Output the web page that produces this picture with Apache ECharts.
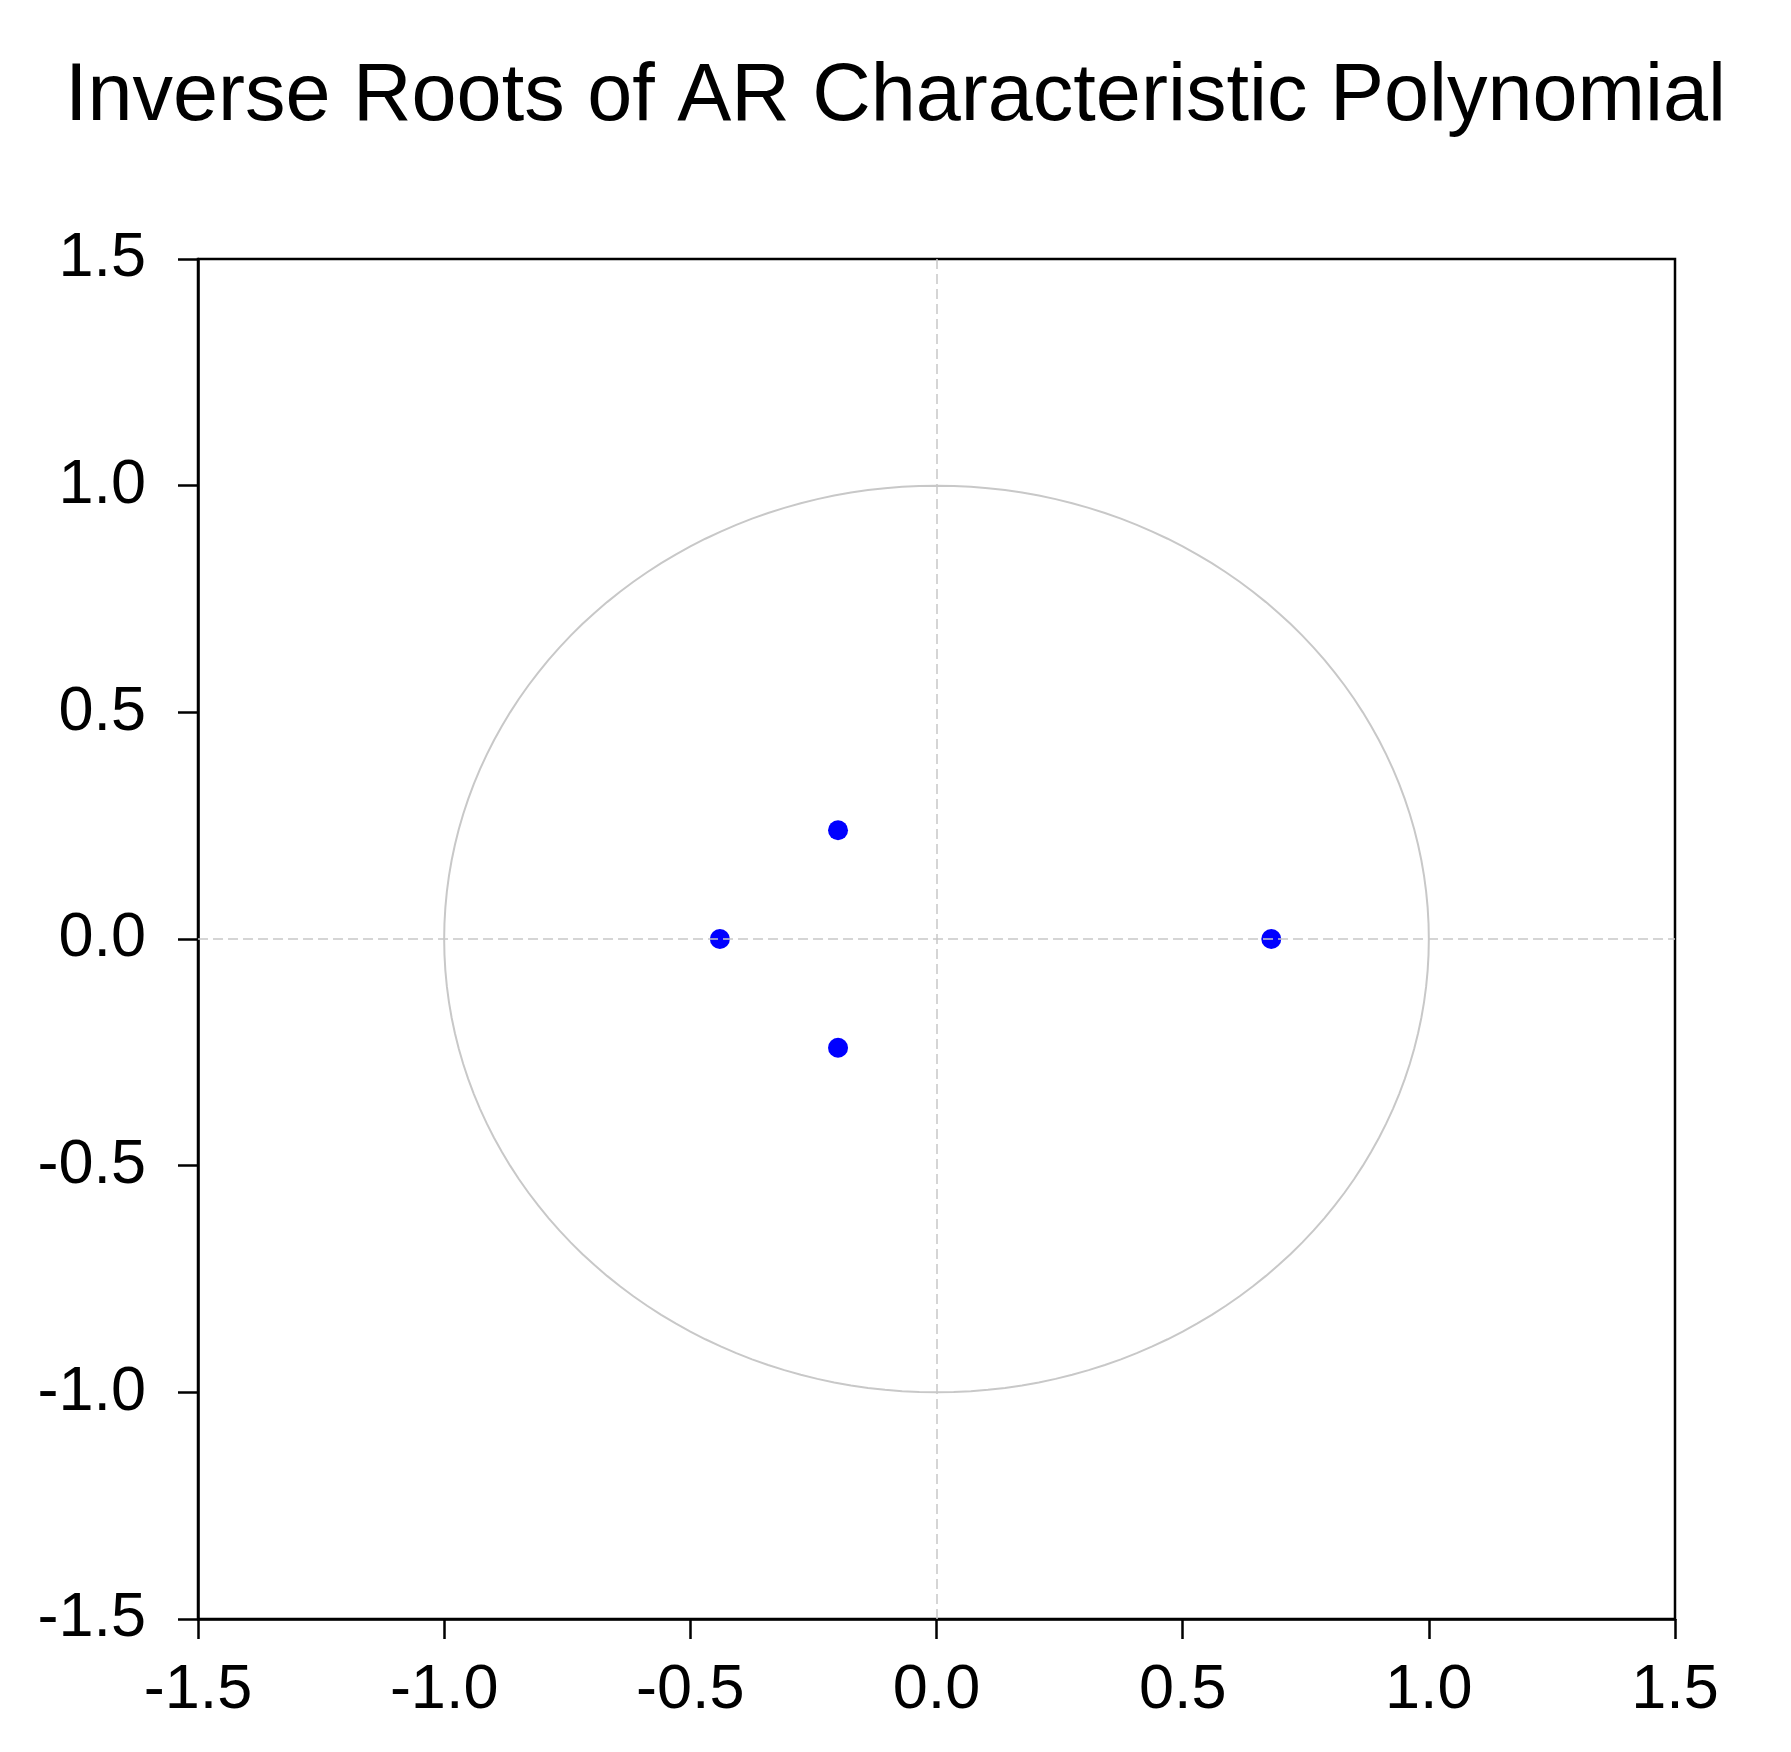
<!DOCTYPE html>
<html><head><meta charset="utf-8">
<script src="https://cdn.jsdelivr.net/npm/echarts@6/dist/echarts.min.js"></script>
<style>html,body{margin:0;padding:0;background:#fff}#c{width:1791px;height:1752px}</style>
</head><body><div id="c"></div>
<script>
var rootsRe = [0.68, -0.44, -0.2, -0.2];
var rootsIm = [0, 0, 0.24, -0.24];
var tickLabels = ['-1.5','-1.0','-0.5','0.0','0.5','1.0','1.5'];
var unitRadius = [1];

var pts = rootsRe.map(function(r,i){return [r, rootsIm[i]];});
var chart = echarts.init(document.getElementById('c'));
var fmt = function(v){return v.toFixed(1);};
var line = {onZero:false, lineStyle:{color:'#000', width:2.5}};
var tick = {inside:false, length:20, lineStyle:{color:'#000', width:2.5}};
var lab = {color:'#000', fontSize:63, fontFamily:'Liberation Sans, Arial', formatter:fmt};
chart.setOption({
  animation:false,
  title:{text:'Inverse Roots of AR Characteristic Polynomial', left:'center', top:52,
    textStyle:{fontSize:81, fontWeight:'normal', color:'#000', fontFamily:'Liberation Sans, Arial'}},
  grid:{left:198, right:116, top:259, bottom:133, show:true, borderColor:'#000', borderWidth:2.5, containLabel:false},
  xAxis:{type:'value', min:-1.5, max:1.5, interval:0.5, axisLine:line, axisTick:tick, splitLine:{show:false},
    axisLabel:Object.assign({}, lab, {margin:40})},
  yAxis:{type:'value', min:-1.5, max:1.5, interval:0.5, axisLine:line, axisTick:tick, splitLine:{show:false},
    axisLabel:Object.assign({}, lab, {margin:52})},
  series:[
    {type:'custom', data:unitRadius, silent:true, z:1,
     renderItem:function(params, api){
       var r = api.value(0), p = [];
       for (var a=0; a<=360; a+=2){
         var t = a*Math.PI/180;
         p.push(api.coord([r*Math.cos(t), r*Math.sin(t)]));
       }
       return {type:'polyline', shape:{points:p}, style:{stroke:'#c8c8c8', lineWidth:2, fill:null}};
     }},
    {type:'scatter', data:pts, symbolSize:20, itemStyle:{color:'#0000ff', opacity:1}, z:3,
     markLine:{silent:true, symbol:'none', label:{show:false},
       lineStyle:{color:'#c8c8c8', type:[10,5], width:1.5},
       data:[{xAxis:0},{yAxis:0}]}}
  ]
});
</script></body></html>
